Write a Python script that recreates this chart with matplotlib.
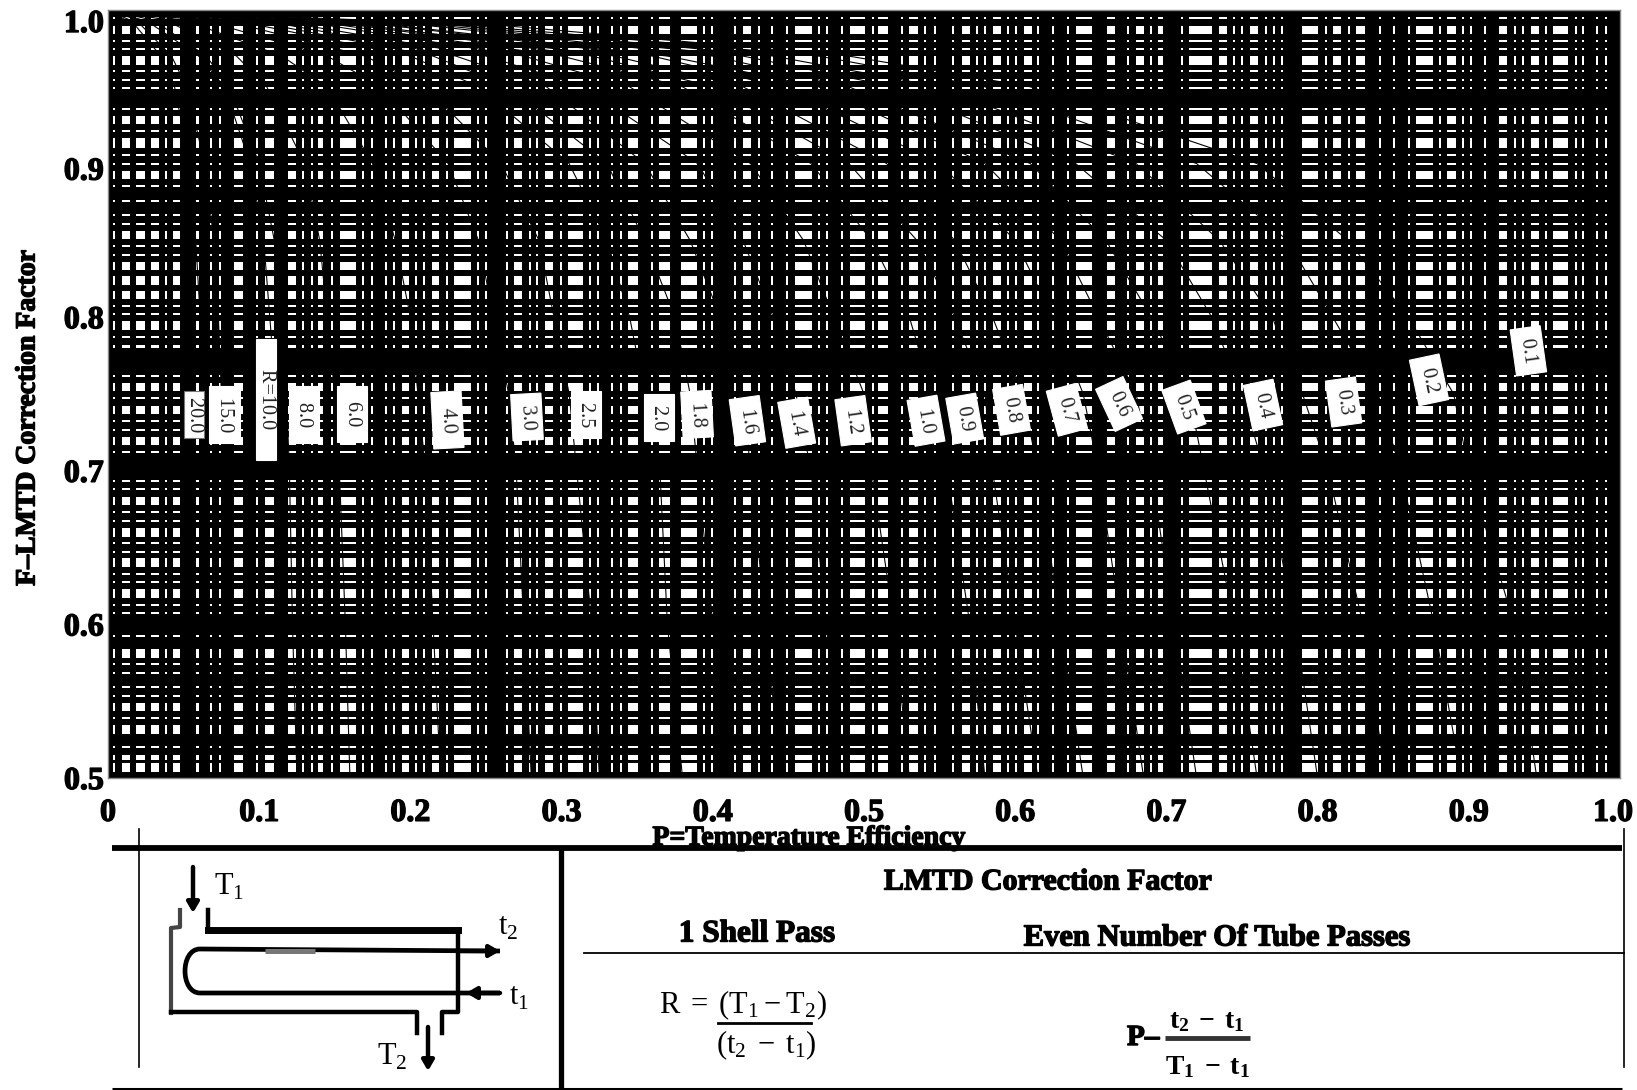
import numpy as np
import matplotlib
matplotlib.use("Agg")
import matplotlib.pyplot as plt
import matplotlib.patheffects as pe
from matplotlib.path import Path
from matplotlib.patches import PathPatch
from matplotlib.transforms import ScaledTranslation

plt.rcParams['font.family'] = ['Liberation Serif', 'DejaVu Serif']
plt.rcParams['mathtext.fontset'] = 'custom'
plt.rcParams['mathtext.rm'] = 'Liberation Serif'
plt.rcParams['mathtext.bf'] = 'Liberation Serif:bold'

# white openings between the printed grid lines
p_thin = [.0042, .0384, .0592, .0681, .0741, .0987, .1292, .1347, .1483, .1684, .1744, .1839,
          .1893, .2035, .2088, .2240, .2445, .2500, .2637, .2791, .2839, .2994, .3188, .3239, .3333,
          .3393, .3600, .3942, .3997, .4147, .4304, .4393, .4493, .4702, .4753, .4852, .5062,
          .5249, .5403, .5470, .5591, .5745, .5800, .5954, .6005, .6153, .6252, .6351, .6748,
          .6898, .7101, .7447, .7502, .7657, .7712, .7767, .8054, .8208, .8413, .8507, .8604,
          .8810, .8964, .9015, .9107, .9306, .9356, .9511, .9707, .9757, .9850, .9907]
p_wide = [(.0091, .0146), (.0185, .0245), (.0282, .0339), (.0432, .0476), (.0833, .0895),
          (.1038, .1100), (.1190, .1245), (.1389, .1422), (.1534, .1638), (.1942, .1991),
          (.2141, .2191), (.2286, .2399), (.2687, .2740), (.2890, .2945), (.3044, .3143),
          (.3441, .3507), (.3646, .3717), (.3790, .3897), (.4198, .4251), (.4544, .4654),
          (.4907, .5007), (.5095, .5161), (.5300, .5359), (.5646, .5701), (.5851, .5904),
          (.6058, .6109), (.6400, .6506), (.6605, .6660), (.6797, .6852), (.6947, .6980),
          (.7151, .7303), (.7348, .7403), (.7553, .7608), (.7895, .8005), (.8104, .8155),
          (.8254, .8313), (.8651, .8761), (.8858, .8913), (.9202, .9255), (.9409, .9462),
          (.9559, .9658)]
f_thin = [.9948, .9798, .9746, .9603, .9544, .9492, .9355, .9212, .9056, .8997, .8854, .8757,
          .8665, .8607, .8464, .8405, .8073, .8021, .7871, .7809, .7617, .7474, .7324, .7266,
          .7123, .6934, .6882, .6732, .6673, .6530, .6472, .6328, .6276, .6127, .6074, .5925,
          .5742, .5684, .5593, .5534, .5391, .5202]
f_wide = [(.9844, .9896), (.9642, .9701), (.9258, .9310), (.9102, .9167), (.8900, .8952),
          (.8509, .8561), (.8307, .8359), (.8210, .8268), (.8119, .8171), (.7917, .7975),
          (.7520, .7572), (.7370, .7422), (.7168, .7220), (.6778, .6830), (.6569, .6628),
          (.6374, .6433), (.6172, .6231), (.5782, .5840), (.5436, .5489), (.5287, .5346),
          (.5117, .5150), (.5039, .5098)]

# correction factor curves: P at each F level, one row per R
r_names = ["0.1", "0.2", "0.3", "0.4", "0.5", "0.6", "0.7", "0.8", "0.9", "1.0", "1.2", "1.4",
           "1.6", "1.8", "2.0", "2.5", "3.0", "4.0", "6.0", "8.0", "R=10.0", "15.0", "20.0"]
f_levels = [1.0, .99, .97, .95, .9, .85, .8, .75, .7, .6, .5]
curve_p = [
    [0, .26, .49, .61, .76, .82, .86, .89, .90, .93, .945],
    [0, .24, .47, .58, .72, .78, .81, .84, .855, .877, .895],
    [0, .23, .44, .55, .68, .735, .77, .79, .807, .83, .845],
    [0, .22, .42, .52, .64, .70, .73, .75, .765, .785, .80],
    [0, .21, .40, .49, .61, .66, .69, .715, .725, .745, .76],
    [0, .19, .37, .47, .58, .63, .655, .68, .69, .705, .72],
    [0, .185, .36, .445, .55, .60, .625, .645, .655, .67, .685],
    [0, .17, .335, .42, .515, .56, .585, .605, .615, .63, .645],
    [0, .165, .32, .40, .49, .535, .56, .58, .585, .60, .615],
    [0, .155, .30, .38, .465, .505, .53, .545, .555, .57, .58],
    [0, .145, .275, .345, .425, .46, .48, .50, .505, .52, .53],
    [0, .13, .25, .315, .39, .42, .44, .455, .465, .475, .485],
    [0, .12, .23, .29, .355, .385, .405, .42, .425, .435, .445],
    [0, .11, .215, .265, .33, .355, .375, .385, .39, .40, .41],
    [0, .10, .20, .245, .305, .33, .345, .355, .365, .37, .38],
    [0, .09, .17, .21, .26, .285, .295, .305, .31, .32, .325],
    [0, .075, .145, .18, .225, .245, .255, .265, .27, .275, .28],
    [0, .06, .115, .145, .175, .19, .20, .205, .21, .215, .22],
    [0, .045, .085, .105, .13, .14, .145, .15, .153, .157, .16],
    [0, .035, .065, .08, .10, .11, .113, .118, .12, .122, .125],
    [0, .03, .06, .077, .094, .103, .107, .111, .113, .116, .118],
    [0, .022, .042, .052, .064, .07, .073, .075, .076, .078, .08],
    [0, .018, .035, .044, .054, .058, .061, .063, .064, .066, .067],
]
label_p = [.9394, .8737, .8172, .7639, .7116, .6687, .6342, .5976, .5666, .5410, .4928, .4555,
           .4229, .3896, .3644, .3161, .2771, .2245, .1614, .1296, .1045, .0770, .0570]
label_f = [.7781, .7592, .7448, .7428, .7415, .7435, .7397, .7397, .7340, .7326, .7326, .7313,
           .7326, .7367, .7346, .7367, .7350, .7331, .7370, .7367, .7464, .7367, .7367]
label_tilt = [8, 12, 8, 12, 20, 25, 15, 10, 10, 10, 8, 10, 8, 3, 0, 0, 3, 3, 0, 0, 0, 0, 0]

x_ticks = [0, .1, .2, .3, .4, .5, .6, .7, .8, .9, 1.0]
x_tick_labels = ["0", "0.1", "0.2", "0.3", "0.4", "0.5", "0.6", "0.7", "0.8", "0.9", "1.0"]
y_ticks = [.5, .6, .7, .8, .9, 1.0]
y_tick_labels = ["0.5", "0.6", "0.7", "0.8", "0.9", "1.0"]


def gap_mesh(thin, wide, half, low, high):
    """Edges and open flags for one direction of the grid."""
    gaps = sorted([(c - half, c + half) for c in thin] + list(wide))
    edges = [low]
    is_open = []
    for a, b in gaps:
        edges += [a, b]
        is_open += [0, 1]
    edges.append(high)
    is_open.append(0)
    return np.array(edges), np.array(is_open)


W, H = 1637, 1090
fig = plt.figure(figsize=(W / 100, H / 100), dpi=100, facecolor="white")

# sheet axes in picture pixels, for the table and the exchanger sketch
sheet = fig.add_axes([0, 0, 1, 1])
sheet.set_xlim(0, W)
sheet.set_ylim(H, 0)
sheet.axis("off")

ax = fig.add_axes([108 / W, 1 - 778 / H, 1512 / W, 768 / H])
x_edges, x_open = gap_mesh(p_thin, p_wide, .0007, 0, 1)
y_edges, y_open = gap_mesh(f_thin, f_wide, .00075, .5, 1)
ax.pcolormesh(x_edges, y_edges, np.outer(y_open, x_open), cmap="gray", vmin=0, vmax=1,
              shading="flat", rasterized=True)

for row in curve_p:
    ax.plot(row, f_levels, color="black", lw=0.8, solid_capstyle="butt")

for name, p, f, tilt in zip(r_names, label_p, label_f, label_tilt):
    edge = "#777777" if name == "20.0" else "white"
    box_pad = 0.04 if name in ("20.0", "R=10.0") else 0.28
    if name == "R=10.0":
        shown = "      " + name + "      "
    elif name in ("6.0", "8.0", "4.0"):
        shown = "  " + name + "  "
    else:
        shown = " " + name + " "
    ax.text(p, f, shown, rotation=-90 + tilt, rotation_mode="anchor", ha="center", va="center",
            fontsize=14.5, color="#222222", zorder=5,
            bbox=dict(boxstyle="square,pad=%.2f" % box_pad, fc="white", ec=edge, lw=0.8))

ax.set_xlim(0, 1)
ax.set_ylim(.5, 1)
ax.set_xticks(x_ticks)
ax.set_xticklabels(x_tick_labels)
ax.set_yticks(y_ticks)
ax.set_yticklabels(y_tick_labels)
ax.tick_params(length=0)
smear = [pe.withStroke(linewidth=1.0, foreground="black")]
for lab in ax.get_xticklabels() + ax.get_yticklabels():
    lab.set_fontsize(23)
    lab.set_fontweight("bold")
    lab.set_path_effects(smear)
ax.tick_params(axis="x", pad=15)
ax.tick_params(axis="y", pad=3)
ax.get_yticklabels()[-1].set_verticalalignment("top")
ax.get_yticklabels()[-2].set_transform(
    ax.get_yticklabels()[-2].get_transform() + ScaledTranslation(0, -5 / 100, fig.dpi_scale_trans))
ax.get_xticklabels()[-1].set_transform(
    ax.get_xticklabels()[-1].get_transform() + ScaledTranslation(-7 / 100, 0, fig.dpi_scale_trans))
for sp in ax.spines.values():
    sp.set_color("#888888")
    sp.set_linewidth(1)

bold = dict(fontweight="bold", color="black", path_effects=smear)
sheet.text(28, 418, "F\u2013LMTD Correction Factor", rotation=90, ha="center", va="center",
           fontsize=20, **bold)
sheet.text(809, 845, "P=Temperature Efficiency", ha="center", va="baseline", fontsize=20, **bold)

# table rules
sheet.plot([112, 1622], [848, 848], color="black", lw=4.2, solid_capstyle="butt")
sheet.plot([112, 1622], [1088.5, 1088.5], color="black", lw=2.2, solid_capstyle="butt")
sheet.plot([561, 561], [848, 1090], color="black", lw=3.8, solid_capstyle="butt")
sheet.plot([584, 1624], [953, 953], color="black", lw=1.3)
sheet.plot([139, 139], [829, 1067], color="black", lw=1.2)
sheet.plot([1624, 1624], [829, 1067], color="black", lw=1.2)

sheet.text(1048, 882, "LMTD Correction Factor", ha="center", va="center", fontsize=21.5, **bold)
sheet.text(757, 934, "1 Shell Pass", ha="center", va="center", fontsize=22.5, **bold)
sheet.text(1217, 938, "Even Number Of Tube Passes", ha="center", va="center", fontsize=22, **bold)

# exchanger sketch
sheet.plot([180, 180, 171, 171], [910, 927, 928, 1013], color="#444444", lw=3)
sheet.plot([171, 417, 417], [1012, 1012, 1033], color="black", lw=3.2)
sheet.plot([208, 208], [910, 930], color="black", lw=3.2)
sheet.plot([208, 458], [930, 930], color="black", lw=5)
sheet.plot([458, 458, 442, 442], [930, 1012, 1012, 1033], color="black", lw=3.2)
tube = Path([(500, 951), (200, 949), (180, 949), (180, 993), (200, 993), (500, 993)],
            [Path.MOVETO, Path.LINETO, Path.CURVE4, Path.CURVE4, Path.CURVE4, Path.LINETO])
sheet.add_patch(PathPatch(tube, fc="none", ec="black", lw=3.4))
sheet.plot([265, 315], [951, 951], color="#777777", lw=3.6, solid_capstyle="butt")
arrow = dict(arrowstyle="-|>,head_width=0.35,head_length=0.6", color="black", lw=3.2,
             shrinkA=0, shrinkB=0)
sheet.annotate("", xy=(193, 913), xytext=(193, 867), arrowprops=arrow)
sheet.annotate("", xy=(428, 1071), xytext=(428, 1027), arrowprops=arrow)
sheet.annotate("", xy=(500, 951), xytext=(460, 951), arrowprops=arrow)
sheet.annotate("", xy=(466, 993), xytext=(500, 993), arrowprops=arrow)

sheet.text(214, 895, r"$\mathrm{T}_1$", fontsize=22, va="baseline")
sheet.text(377, 1065, r"$\mathrm{T}_2$", fontsize=22, va="baseline")
sheet.text(498, 935, r"$\mathrm{t}_2$", fontsize=22, va="baseline")
sheet.text(509, 1005, r"$\mathrm{t}_1$", fontsize=22, va="baseline")

# formulas
sheet.text(659, 1013, r"$\mathrm{R\,=\,(T_1\,\mathrm{-}\,T_2)}$", fontsize=22, va="baseline")
sheet.plot([718, 811], [1023, 1023], color="black", lw=2)
sheet.text(766, 1053, r"$\mathrm{(t_2\,-\,t_1)}$", fontsize=22, va="baseline", ha="center")
sheet.text(1127, 1045, "P\u2013", fontsize=21, va="baseline", **bold)
sheet.plot([1165, 1250], [1038, 1038], color="#333333", lw=3.5, solid_capstyle="butt")
sheet.text(1207, 1028, r"$\mathbf{t_2\,-\,t_1}$", fontsize=20, ha="center", va="baseline")
sheet.text(1207, 1074, r"$\mathbf{T_1\,-\,t_1}$", fontsize=20, ha="center", va="baseline")

fig.savefig("out.png", dpi=100)
